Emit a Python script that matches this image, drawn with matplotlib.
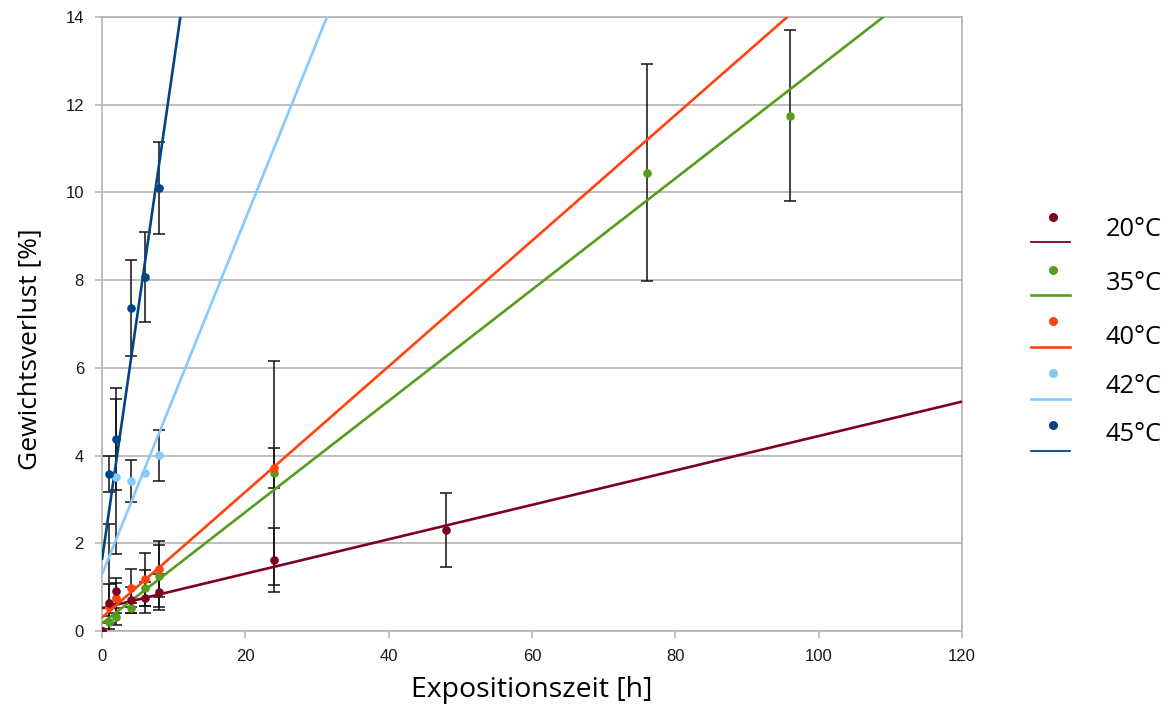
import numpy as np
import matplotlib
matplotlib.use("Agg")
import matplotlib.pyplot as plt
from matplotlib.lines import Line2D

# Exposure time [h] and weight loss [%] (mean and standard deviation) per temperature
hours_20 = [0, 1, 2, 4, 6, 8, 24, 48]
loss_20 = [0.0, 0.63, 0.91, 0.71, 0.76, 0.89, 1.62, 2.30]
sd_20 = [0.0, 0.45, 0.30, 0.30, 0.35, 0.40, 0.72, 0.85]

hours_35 = [0, 1, 2, 4, 6, 8, 24, 76, 96]
loss_35 = [0.0, 0.20, 0.33, 0.52, 0.98, 1.25, 3.60, 10.45, 11.75]
sd_35 = [0.0, 0.15, 0.20, 0.12, 0.40, 0.71, 2.55, 2.47, 1.95]

hours_40 = [0, 1, 2, 4, 6, 8, 24]
loss_40 = [0.0, 0.55, 0.75, 0.98, 1.18, 1.41, 3.72]
sd_40 = [0.0, 1.90, 0.35, 0.43, 0.60, 0.64, 0.45]

hours_42 = [0, 2, 4, 6, 8]
loss_42 = [0.0, 3.52, 3.41, 3.60, 4.01]
sd_42 = [0.0, 1.77, 0.48, 0.0, 0.58]

hours_45 = [0, 1, 2, 4, 6, 8]
loss_45 = [0.0, 3.58, 4.38, 7.37, 8.07, 10.10]
sd_45 = [0.0, 0.41, 1.17, 1.10, 1.02, 1.05]

labels = ["20°C", "35°C", "40°C", "42°C", "45°C"]
colors = ["#7e0021", "#579d1c", "#ff420e", "#83caff", "#004586"]

x_ticks = [0, 20, 40, 60, 80, 100, 120]
y_ticks = [0, 2, 4, 6, 8, 10, 12, 14]

series = [
    (hours_20, loss_20, sd_20),
    (hours_35, loss_35, sd_35),
    (hours_40, loss_40, sd_40),
    (hours_42, loss_42, sd_42),
    (hours_45, loss_45, sd_45),
]

W, H = 1172, 713
fig = plt.figure(figsize=(W / 100, H / 100), dpi=100)
ax = fig.add_axes([102 / W, 1 - 631 / H, 860 / W, 614 / H])

grid_grey = "#b3b3b3"
x_max = x_ticks[-1]

for i, ((hx, loss, sd), color) in enumerate(zip(series, colors)):
    hx = np.asarray(hx, float)
    loss = np.asarray(loss, float)
    sd = np.asarray(sd, float)
    # linear trend line through the measurements
    slope, icpt = np.polyfit(hx, loss, 1)
    xs = np.array([0.0, x_max])
    ax.plot(xs, icpt + slope * xs, color=color, lw=1.9, zorder=3,
            solid_capstyle="butt")
    has_err = sd > 0
    ax.errorbar(hx[has_err], loss[has_err], yerr=sd[has_err], fmt="none",
                ecolor="#111111", elinewidth=1.1, capsize=4.3, capthick=1.1,
                zorder=2)
    # the 20 °C markers sit on top of the others
    mz = 5 if i == 0 else 4 + 0.1 * i
    ax.plot(hx, loss, "o", color=color, ms=6.2, mew=0, zorder=mz)

ax.set_xlim(x_ticks[0], x_ticks[-1])
ax.set_ylim(y_ticks[0], y_ticks[-1])
ax.set_xticks(x_ticks)
ax.set_yticks(y_ticks)
ax.yaxis.grid(True, color=grid_grey, lw=1.2)
ax.set_axisbelow(True)
for sp in ax.spines.values():
    sp.set_color(grid_grey)
    sp.set_linewidth(1.2)
ax.tick_params(direction="out", length=5, width=1.1, color=grid_grey,
               labelsize=12, labelcolor="#1a1a1a")
ax.tick_params(axis="y", pad=8)
ax.tick_params(axis="x", pad=8)
for lab in ax.get_xticklabels() + ax.get_yticklabels():
    lab.set_family("Liberation Sans")

ax.set_xlabel("Expositionszeit [h]", family="Open Sans", fontsize=20.5,
              va="center")
ax.set_ylabel("Gewichtsverlust [%]", family="Open Sans", fontsize=19,
              va="center")
ax.xaxis.set_label_coords(0.5, (631 - 690) / 614)
ax.yaxis.set_label_coords((30 - 102) / 860, (631 - 349) / 614)

# legend: dot above a short line segment, label to the right
def fx(px):
    return px / W

def fy(py):
    return 1 - py / H

marker_y = [217, 270, 321, 373, 425]
line_y = [242, 295, 347, 399, 451]
text_y = [230, 283, 337, 387, 435]
line_w = [1.3, 1.9, 1.9, 1.9, 1.3]
for lab, color, my, ly, ty, lw in zip(labels, colors, marker_y, line_y,
                                      text_y, line_w):
    fig.add_artist(Line2D([fx(1053)], [fy(my)], marker="o", ms=6.5, mew=0,
                          color=color, transform=fig.transFigure))
    fig.add_artist(Line2D([fx(1031), fx(1070)], [fy(ly), fy(ly)], lw=lw,
                          color=color, transform=fig.transFigure))
    fig.text(fx(1106), fy(ty), lab, family="Open Sans", fontsize=18.3,
             va="center", ha="left")

fig.savefig("out.png", dpi=100)
